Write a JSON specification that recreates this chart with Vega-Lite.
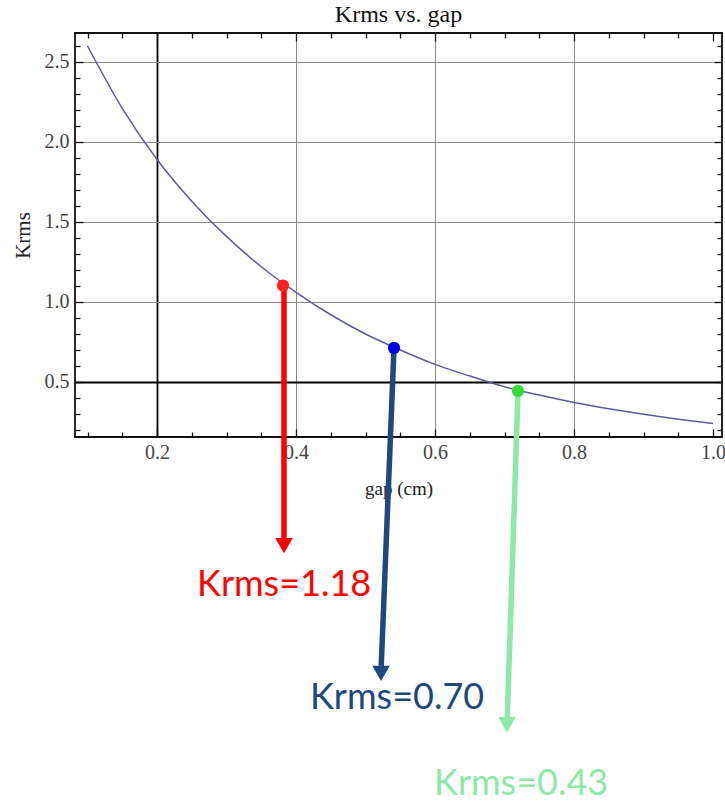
{
  "$schema": "https://vega.github.io/schema/vega-lite/v6.json",
  "width": 647,
  "height": 404,
  "autosize": {"type": "none"},
  "padding": {"left": 75, "top": 33, "right": 3, "bottom": 364},
  "background": "white",
  "title": {"text": "Krms vs. gap", "font": "Liberation Serif", "fontSize": 24, "fontWeight": "normal", "color": "#111", "anchor": "middle", "offset": 5},
  "config": {
    "view": {"stroke": "#111", "strokeWidth": 1.8},
    "axis": {"labelFont": "Liberation Serif", "titleFont": "Liberation Serif", "labelColor": "#444", "titleColor": "#222", "titleFontWeight": "normal", "domain": false}
  },
  "datasets": {
    "curve": [
      {"gap": 0.10, "krms": 2.60},
      {"gap": 0.15, "krms": 2.21},
      {"gap": 0.20, "krms": 1.89},
      {"gap": 0.25, "krms": 1.63},
      {"gap": 0.30, "krms": 1.41},
      {"gap": 0.35, "krms": 1.22},
      {"gap": 0.40, "krms": 1.06},
      {"gap": 0.45, "krms": 0.92},
      {"gap": 0.50, "krms": 0.80},
      {"gap": 0.55, "krms": 0.70},
      {"gap": 0.60, "krms": 0.61},
      {"gap": 0.65, "krms": 0.537},
      {"gap": 0.70, "krms": 0.47},
      {"gap": 0.75, "krms": 0.418},
      {"gap": 0.80, "krms": 0.372},
      {"gap": 0.85, "krms": 0.333},
      {"gap": 0.90, "krms": 0.298},
      {"gap": 0.95, "krms": 0.267},
      {"gap": 1.00, "krms": 0.24}
    ],
    "points": [
      {"series": "a", "gap": 0.3813, "krms": 1.102},
      {"series": "b", "gap": 0.5410, "krms": 0.713},
      {"series": "c", "gap": 0.7194, "krms": 0.4436}
    ],
    "arrows": [
      {"series": "a", "gap": 0.3827, "krms": 1.102, "gap_end": 0.3827, "krms_end": -0.49, "head_gap": 0.3827, "head_krms": -0.523},
      {"series": "b", "gap": 0.5410, "krms": 0.713, "gap_end": 0.5226, "krms_end": -1.274, "head_gap": 0.5223, "head_krms": -1.321},
      {"series": "c", "gap": 0.7194, "krms": 0.4436, "gap_end": 0.7040, "krms_end": -1.596, "head_gap": 0.7036, "head_krms": -1.641}
    ],
    "labels": [
      {"series": "a", "label": "Krms=1.18", "gap": 0.2576, "krms": -0.835},
      {"series": "b", "label": "Krms=0.70", "gap": 0.4201, "krms": -1.544},
      {"series": "c", "label": "Krms=0.43", "gap": 0.5986, "krms": -2.080}
    ]
  },
  "resolve": {"axis": {"x": "independent", "y": "independent"}, "scale": {"color": "independent"}},
  "layer": [
    {
      "data": {"name": "curve"},
      "mark": {"type": "line", "color": "#5b5b9e", "strokeWidth": 1.5, "interpolate": "monotone"},
      "encoding": {
        "x": {"field": "gap", "type": "quantitative",
          "scale": {"domain": [0.082, 1.0129], "nice": false, "zero": false},
          "axis": {"orient": "bottom", "values": [0.2, 0.4, 0.6, 0.8, 1.0], "format": ".1f", "ticks": false,
            "labelPadding": 5, "labelFontSize": 20, "title": "gap (cm)", "titleFontSize": 19, "titlePadding": 17,
            "grid": true,
            "gridColor": {"condition": {"test": "datum.value === 0.2", "value": "#000"}, "value": "#888"},
            "gridWidth": {"condition": {"test": "datum.value === 0.2", "value": 1.8}, "value": 1},
            "gridOpacity": {"condition": {"test": "datum.value === 1", "value": 0}, "value": 1}}},
        "y": {"field": "krms", "type": "quantitative",
          "scale": {"domain": [0.156, 2.681], "nice": false, "zero": false},
          "axis": {"orient": "left", "values": [0.5, 1.0, 1.5, 2.0, 2.5], "format": ".1f", "ticks": false,
            "labelPadding": 6, "labelFontSize": 20, "title": "Krms", "titleFontSize": 21, "titlePadding": 11,
            "grid": true,
            "gridColor": {"condition": {"test": "datum.value === 0.5", "value": "#000"}, "value": "#888"},
            "gridWidth": {"condition": {"test": "datum.value === 0.5", "value": 1.8}, "value": 1}}}
      }
    },
    {
      "data": {"name": "arrows"},
      "mark": {"type": "rule", "strokeWidth": 5.5, "strokeCap": "butt"},
      "encoding": {
        "x": {"field": "gap", "type": "quantitative",
          "axis": {"orient": "bottom", "values": [0.1, 0.15, 0.2, 0.25, 0.3, 0.35, 0.4, 0.45, 0.5, 0.55, 0.6, 0.65, 0.7, 0.75, 0.8, 0.85, 0.9, 0.95, 1.0],
            "labels": false, "title": null, "grid": false, "tickColor": "#111", "tickWidth": 1.3,
            "tickSize": {"condition": {"test": "abs(datum.value*5 - round(datum.value*5)) < 0.001", "value": -8}, "value": -5}}},
        "y": {"field": "krms", "type": "quantitative",
          "axis": {"orient": "left", "values": [0.2, 0.3, 0.4, 0.5, 0.6, 0.7, 0.8, 0.9, 1.0, 1.1, 1.2, 1.3, 1.4, 1.5, 1.6, 1.7, 1.8, 1.9, 2.0, 2.1, 2.2, 2.3, 2.4, 2.5, 2.6],
            "labels": false, "title": null, "grid": false, "tickColor": "#111", "tickWidth": 1.3,
            "tickSize": {"condition": {"test": "abs(datum.value*2 - round(datum.value*2)) < 0.001", "value": -8}, "value": -5}}},
        "x2": {"field": "gap_end"},
        "y2": {"field": "krms_end"},
        "color": {"field": "series", "type": "nominal", "legend": null,
          "scale": {"domain": ["a", "b", "c"], "range": ["#ff0000", "#1f497d", "#8ee8a8"]}}
      }
    },
    {
      "data": {"name": "arrows"},
      "mark": {"type": "point", "shape": "triangle-down", "filled": true, "opacity": 1, "size": 310},
      "encoding": {
        "x": {"field": "head_gap", "type": "quantitative", "axis": null},
        "y": {"field": "head_krms", "type": "quantitative", "axis": null},
        "color": {"field": "series", "type": "nominal", "legend": null,
          "scale": {"domain": ["a", "b", "c"], "range": ["#ff0000", "#1f497d", "#8ee8a8"]}}
      }
    },
    {
      "data": {"name": "labels"},
      "mark": {"type": "text", "align": "left", "baseline": "alphabetic", "font": "Lato", "fontSize": 36},
      "encoding": {
        "x": {"field": "gap", "type": "quantitative", "axis": null},
        "y": {"field": "krms", "type": "quantitative", "axis": null},
        "text": {"field": "label"},
        "color": {"field": "series", "type": "nominal", "legend": null,
          "scale": {"domain": ["a", "b", "c"], "range": ["#ff0000", "#1f497d", "#8ee8a8"]}}
      }
    },
    {
      "data": {"name": "points"},
      "mark": {"type": "circle", "size": 150, "opacity": 1},
      "encoding": {
        "x": {"field": "gap", "type": "quantitative",
          "axis": {"orient": "top", "values": [0.1, 0.15, 0.2, 0.25, 0.3, 0.35, 0.4, 0.45, 0.5, 0.55, 0.6, 0.65, 0.7, 0.75, 0.8, 0.85, 0.9, 0.95, 1.0],
            "labels": false, "title": null, "grid": false, "tickColor": "#111", "tickWidth": 1.3,
            "tickSize": {"condition": {"test": "abs(datum.value*5 - round(datum.value*5)) < 0.001", "value": -8}, "value": -5}}},
        "y": {"field": "krms", "type": "quantitative",
          "axis": {"orient": "right", "values": [0.2, 0.3, 0.4, 0.5, 0.6, 0.7, 0.8, 0.9, 1.0, 1.1, 1.2, 1.3, 1.4, 1.5, 1.6, 1.7, 1.8, 1.9, 2.0, 2.1, 2.2, 2.3, 2.4, 2.5, 2.6],
            "labels": false, "title": null, "grid": false, "tickColor": "#111", "tickWidth": 1.3,
            "tickSize": {"condition": {"test": "abs(datum.value*2 - round(datum.value*2)) < 0.001", "value": -8}, "value": -5}}},
        "color": {"field": "series", "type": "nominal", "legend": null,
          "scale": {"domain": ["a", "b", "c"], "range": ["#ff2020", "#0000e0", "#33dd33"]}}
      }
    }
  ]
}
